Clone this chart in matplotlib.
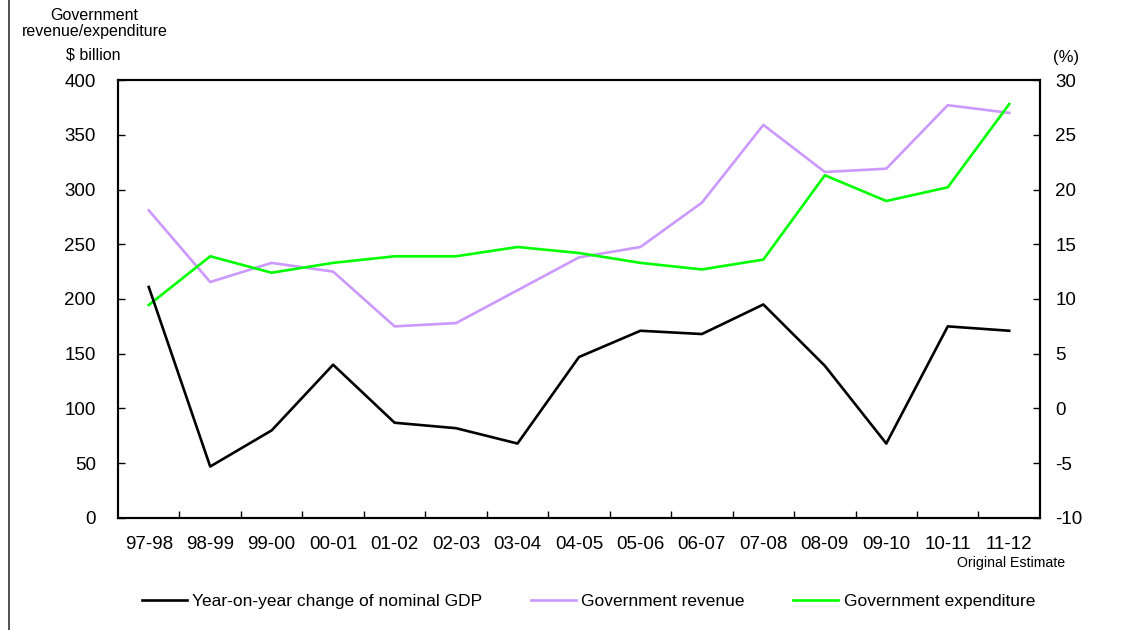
import matplotlib
matplotlib.use('Agg')
from matplotlib import pyplot as plt
from matplotlib.lines import Line2D
import numpy as np

plt.rcParams['font.family'] = ['Liberation Sans', 'DejaVu Sans']
plt.rcParams['axes.unicode_minus'] = False

years = ['97-98', '98-99', '99-00', '00-01', '01-02', '02-03', '03-04', '04-05',
         '05-06', '06-07', '07-08', '08-09', '09-10', '10-11', '11-12']

# $ billion
revenue = [281, 215.5, 233, 225, 175, 178, 208, 238, 247.5, 288, 359, 316, 319, 377, 370]
expenditure = [194.5, 239, 224, 233, 239, 239, 247.5, 242, 233, 227, 236, 313, 289.5, 302, 378]

# year-on-year change of nominal GDP (%)
gdp_change = [11.1, -5.3, -2.0, 4.0, -1.3, -1.8, -3.2, 4.7, 7.1, 6.8, 9.5, 3.9, -3.2, 7.5, 7.1]

x = np.arange(len(years))

fig = plt.figure(figsize=(11.25, 6.3), dpi=100)
ax = fig.add_axes([0.1049, 0.1778, 0.8195, 0.6952])
ax2 = ax.twinx()

l_rev, = ax.plot(x, revenue, color='#CC99FF', lw=1.9)
l_exp, = ax.plot(x, expenditure, color='#00FF00', lw=1.9)
l_gdp, = ax2.plot(x, gdp_change, color='black', lw=1.9)

ax.set_xlim(-0.5, len(years) - 0.5)
ax.set_ylim(0, 400)
ax.set_yticks(np.arange(0, 401, 50))
ax2.set_ylim(-10, 30)
ax2.set_yticks(np.arange(-10, 31, 5))

ax.set_xticks(x)
ax.set_xticklabels(years)
ax.set_xticks(np.arange(0.5, len(years) - 1, 1), minor=True)
ax.tick_params(axis='x', which='major', length=0, pad=13, labelsize=13.5)
ax.tick_params(axis='x', which='minor', direction='in', length=5, width=1)
ax.tick_params(axis='y', direction='in', length=5, width=1, pad=16, labelsize=13.5)
ax2.tick_params(axis='y', direction='in', length=5, width=1, pad=11, labelsize=13.5)

for a in (ax, ax2):
    for s in a.spines.values():
        s.set_linewidth(1.5)

fig.text(0.899, 0.107, 'Original Estimate', ha='center', va='center', fontsize=10.2)

fig.text(0.084, 0.975, 'Government', ha='center', va='center', fontsize=11.5)
fig.text(0.084, 0.950, 'revenue/expenditure', ha='center', va='center', fontsize=11.5)
fig.text(0.083, 0.912, '$ billion', ha='center', va='center', fontsize=11.5)
fig.text(0.948, 0.909, '(%)', ha='center', va='center', fontsize=12)

fig.legend([l_gdp, l_rev, l_exp],
           ['Year-on-year change of nominal GDP', 'Government revenue', 'Government expenditure'],
           loc='center', bbox_to_anchor=(0.523, 0.046), ncol=3, frameon=False,
           fontsize=12.5, handlelength=2.6, handletextpad=0.3, columnspacing=2.8)

# thin frame line along the left edge
fig.add_artist(Line2D([0.008, 0.008], [0, 1], color='#333333', lw=1.2))

fig.savefig('out.png', dpi=100, facecolor='white')
